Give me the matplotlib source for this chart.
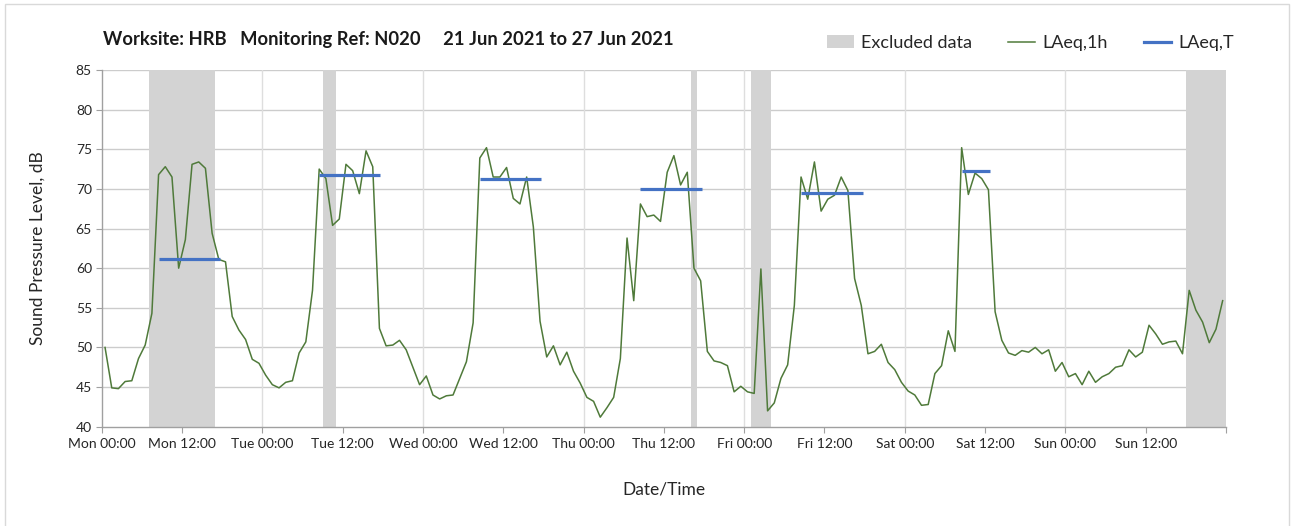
import matplotlib
matplotlib.use("Agg")
import matplotlib.pyplot as plt
from matplotlib.patches import Patch, Rectangle
from matplotlib.lines import Line2D
import numpy as np

plt.rcParams['font.family'] = ['Lato', 'DejaVu Sans']

# Hourly LAeq,1h values, plotted at mid-hour (hours from Mon 00:00)
hours = [h + 0.5 for h in range(168)]
laeq_1h = [
    # Mon
    50.0, 44.9, 44.8, 45.7, 45.8, 48.6, 50.3, 54.3, 71.8, 72.8, 71.5, 60.0,
    63.6, 73.1, 73.4, 72.6, 64.4, 61.1, 60.8, 53.9, 52.2, 51.0, 48.5, 48.0,
    # Tue
    46.5, 45.3, 44.9, 45.6, 45.8, 49.3, 50.7, 57.2, 72.5, 71.3, 65.4, 66.2,
    73.1, 72.3, 69.4, 74.8, 72.8, 52.4, 50.2, 50.3, 50.9, 49.7, 47.5, 45.3,
    # Wed
    46.4, 44.0, 43.5, 43.9, 44.0, 46.1, 48.2, 53.1, 73.9, 75.2, 71.5, 71.5,
    72.7, 68.8, 68.1, 71.5, 65.2, 53.3, 48.8, 50.2, 47.8, 49.4, 47.0, 45.5,
    # Thu
    43.7, 43.2, 41.2, 42.4, 43.7, 48.6, 63.8, 55.9, 68.1, 66.5, 66.7, 65.9,
    72.1, 74.2, 70.5, 72.1, 60.0, 58.4, 49.5, 48.3, 48.1, 47.7, 44.4, 45.1,
    # Fri
    44.4, 44.2, 59.9, 42.0, 43.0, 46.1, 47.8, 55.3, 71.5, 68.7, 73.4, 67.2,
    68.7, 69.2, 71.5, 69.8, 58.7, 55.3, 49.2, 49.5, 50.4, 48.1, 47.2, 45.6,
    # Sat
    44.5, 44.0, 42.7, 42.8, 46.7, 47.7, 52.1, 49.5, 75.2, 69.3, 72.0, 71.3,
    69.9, 54.5, 50.9, 49.3, 49.0, 49.6, 49.4, 50.0, 49.2, 49.7, 47.0, 48.1,
    # Sun
    46.3, 46.7, 45.3, 47.0, 45.6, 46.3, 46.7, 47.5, 47.7, 49.7, 48.8, 49.4,
    52.8, 51.7, 50.4, 50.7, 50.8, 49.2, 57.2, 54.7, 53.2, 50.6, 52.3, 55.9,
]

# LAeq,T daytime values per day
laeq_t_start = [8.5, 32.5, 56.5, 80.5, 104.5, 128.5]
laeq_t_end = [17.7, 41.6, 65.7, 89.7, 113.8, 132.7]
laeq_t = [61.1, 71.7, 71.3, 70.0, 69.5, 72.2]

# Excluded data periods (hours from Mon 00:00)
excl_start = [7, 33, 88, 97, 162]
excl_end = [17, 35, 89, 100, 168]

tick_hours = list(range(0, 169, 12))
tick_labels = ["Mon 00:00", "Mon 12:00", "Tue 00:00", "Tue 12:00", "Wed 00:00",
               "Wed 12:00", "Thu 00:00", "Thu 12:00", "Fri 00:00", "Fri 12:00",
               "Sat 00:00", "Sat 12:00", "Sun 00:00", "Sun 12:00", ""]

green = '#4f7a3a'
blue = '#4472c4'
band = '#d3d3d3'

fig = plt.figure(figsize=(12.95, 5.26), dpi=100)
fig.patches.append(Rectangle((5/1295, -0.02), (1289-5)/1295, 1.02 - 4/526, transform=fig.transFigure,
                             fill=False, edgecolor='#d9d9d9', linewidth=1.0))
ax = fig.add_axes([101.7/1295, 1-426.7/526, (1226-101.7)/1295, (426.7-70)/526])

for s, e in zip(excl_start, excl_end):
    ax.axvspan(s, e, color=band, lw=0, zorder=1)

ax.plot(hours, laeq_1h, color=green, lw=1.1, zorder=3)
for s, e, v in zip(laeq_t_start, laeq_t_end, laeq_t):
    ax.plot([s, e], [v, v], color=blue, lw=2.3, zorder=4, solid_capstyle='butt')

ax.set_xlim(0, 168)
ax.set_ylim(40, 85)
ax.set_yticks(range(40, 86, 5))
ax.set_xticks(tick_hours)
ax.set_xticklabels(tick_labels, fontsize=10, color='#262626')
ax.tick_params(axis='y', labelsize=10, colors='#262626', length=4, color='#a0a0a0', pad=3)
ax.tick_params(axis='x', length=4, color='#a0a0a0', pad=4)

for y in range(45, 86, 5):
    ax.axhline(y, color='#cccccc', lw=1.0, zorder=0)
for d in range(24, 169, 24):
    ax.axvline(d, color='#dedede', lw=1.0, zorder=0)

for side in ['top', 'right']:
    ax.spines[side].set_visible(False)
for side in ['left', 'bottom']:
    ax.spines[side].set_color('#a0a0a0')
    ax.spines[side].set_linewidth(1.0)
ax.axvline(168, color='#b0b0b0', lw=1.0, zorder=0)

ax.set_ylabel("Sound Pressure Level, dB", fontsize=12.5, color='#262626', labelpad=22)
ax.set_xlabel("Date/Time", fontsize=12.5, color='#262626', labelpad=23)

fig.text(103/1295, 1-40/526, "Worksite: HRB   Monitoring Ref: N020     21 Jun 2021 to 27 Jun 2021",
         fontsize=13.2, fontweight='bold', color='#1a1a1a', va='center', ha='left')

handles = [Patch(facecolor=band, edgecolor='none'),
           Line2D([0], [0], color=green, lw=1.1),
           Line2D([0], [0], color=blue, lw=2.3)]
fig.legend(handles, ["Excluded data", "LAeq,1h", "LAeq,T"], loc='center right',
           bbox_to_anchor=(1250/1295, 1-43/526), ncol=3, frameon=False, fontsize=13,
           handlelength=1.5, handletextpad=0.4, columnspacing=2.0, labelcolor='#262626')

fig.savefig("out.png", dpi=100)
